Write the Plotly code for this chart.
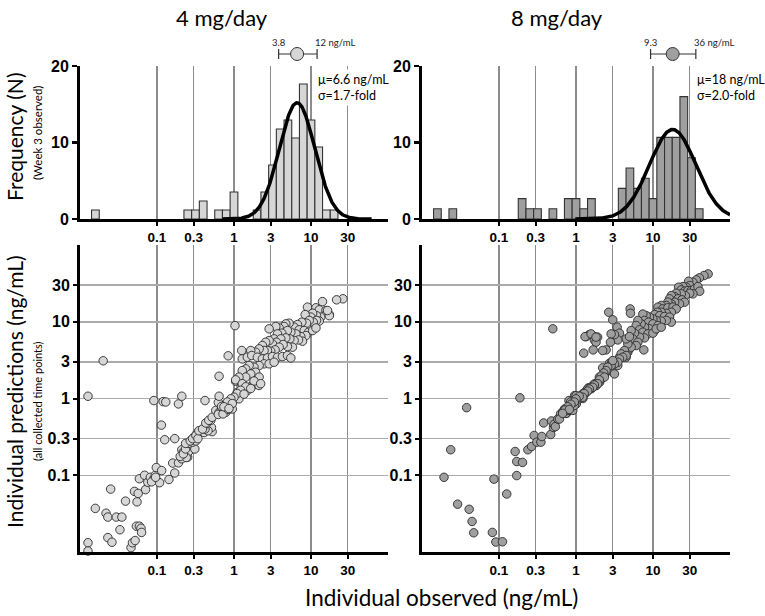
import numpy as np
import plotly.graph_objects as go

W, H = 765, 616

# ---------------- data ----------------
tick_vals = [0.1, 0.3, 1, 3, 10, 30]
tick_text = ["0.1", "0.3", "1", "3", "10", "30"]

# histograms: log10 bin centres (0.1-decade bins) and patient counts
hist4_bin_log = [-1.8, -0.6, -0.5, -0.4, -0.2, -0.1, 0.0, 0.3, 0.4, 0.5, 0.6,
                 0.7, 0.8, 0.9, 1.0, 1.1, 1.2, 1.3]
hist4_counts = [1, 1, 1, 2, 1, 1, 3, 1, 3, 6, 10, 11, 9, 15, 11, 8, 1, 1]
N4 = 85
hist8_bin_log = [-1.8, -1.6, -0.7, -0.6, -0.5, -0.3, -0.1, 0.0, 0.1, 0.2, 0.6,
                 0.7, 0.8, 0.9, 1.0, 1.1, 1.2, 1.3, 1.4, 1.5, 1.6]
hist8_counts = [1, 1, 2, 1, 1, 1, 2, 2, 1, 2, 3, 5, 3, 4, 2, 8, 8, 8, 12, 6, 1]
N8 = 75

# log-normal fits (geometric mean, fold SD, fitted peak %, 1-SD interval)
mu4, gsd4, peak4, lo4, hi4 = 6.6, 1.7, 15.2, 3.8, 12
mu8, gsd8, peak8, lo8, hi8 = 18, 2.0, 11.7, 9.3, 36

# scatter: individual observed vs individual predicted (ng/mL)
obs4 = [0.0127, 0.02, 1.03, 0.84, 0.64, 0.091, 0.12, 0.13, 0.19, 0.21, 0.42, 0.114, 0.126, 0.17, 1.05,
        0.0127, 0.0127, 0.0158, 0.0218, 0.023, 0.025, 0.023, 0.026, 0.0296, 0.035,
        0.033, 0.039, 0.046, 0.048, 0.052, 0.051, 0.057, 0.055, 0.054, 0.059,
        0.062, 0.063, 0.059, 0.071, 0.069, 0.076, 0.082, 0.091, 0.095, 0.098,
        0.108, 0.115, 0.143, 0.17, 0.16, 0.19, 0.21, 0.21, 0.22, 0.25, 0.26, 0.085, 0.096,
        0.24, 0.20, 0.22, 0.235, 0.31, 0.26, 0.29, 0.32, 0.30, 0.33,
        0.38, 0.41, 0.52, 0.51, 0.46, 0.42, 0.44, 0.50, 0.235, 0.27,
        0.29, 0.32, 0.34, 0.35, 0.39, 0.43, 0.47, 0.52, 0.58, 0.64,
        0.69, 0.78, 0.72, 0.86, 0.95, 0.625, 0.72, 0.84, 0.93, 1.0,
        0.625, 0.64, 0.69, 1.05, 1.1, 1.24, 1.35, 1.49, 1.65, 1.82, 2.11, 1.28, 1.16,
        26, 21.5, 14.1, 9.0, 11.6, 12.8, 15.6, 16.1, 17.3, 13.4,
        11.8, 10.5, 9.96, 8.4, 12.8, 11.8, 10.7, 9.5, 8.75, 7.6,
        6.68, 6.05, 5.2, 4.71, 4.48, 3.86, 3.49, 2.86, 7.02, 8.16,
        9.3, 10.5, 11.6, 8.58, 7.38, 6.36, 5.47, 4.95, 4.18, 3.67,
        3.32, 7.76, 6.89, 6.05, 5.31, 4.71, 4.05, 3.56, 3.16, 2.86,
        2.58, 2.34, 5.75, 4.95, 4.35, 3.86, 3.42, 3.0, 2.72, 2.46,
        2.12, 1.91, 1.65, 1.26, 1.28, 1.49, 1.70, 2.01, 2.34, 2.72,
        3.16, 3.67, 4.26, 4.95, 5.47, 2.46, 2.12, 1.82, 1.57, 1.42,
        1.28, 2.86, 3.32, 1.91, 1.65, 1.42, 2.12, 1.82, 2.22, 1.16,
        1.05, 1.28, 1.42, 1.65, 1.22, 1.10, 1.35, 1.0, 0.91, 0.82,
        0.95, 0.74, 0.86, 17.3, 16.4]
pred4 = [1.07, 3.1, 8.9, 3.6, 1.95, 0.94, 0.91, 0.9, 0.85, 1.07, 0.94, 0.45, 0.29, 0.30, 1.68,
         0.0132, 0.0103, 0.037, 0.032, 0.0285, 0.066, 0.0154, 0.0134, 0.0285, 0.0285,
         0.0195, 0.046, 0.0114, 0.0132, 0.0141, 0.0616, 0.058, 0.045, 0.0217, 0.0217,
         0.0204, 0.018, 0.09, 0.065, 0.1, 0.081, 0.094, 0.09, 0.1, 0.126,
         0.08, 0.115, 0.088, 0.107, 0.144, 0.145, 0.164, 0.215, 0.2, 0.172, 0.206, 0.082, 0.094,
         0.17, 0.176, 0.19, 0.22, 0.22, 0.26, 0.27, 0.28, 0.31, 0.35,
         0.39, 0.36, 0.37, 0.42, 0.38, 0.40, 0.47, 0.52, 0.26, 0.28,
         0.30, 0.33, 0.30, 0.38, 0.40, 0.48, 0.52, 0.57, 0.70, 0.66,
         0.76, 0.66, 0.81, 0.9, 0.73, 0.62, 0.63, 0.72, 0.91, 0.96,
         0.89, 1.07, 0.79, 1.07, 1.2, 1.43, 1.34, 1.27, 1.43, 1.52, 1.48, 1.15, 0.99,
         19.9, 19.3, 18.3, 15.5, 15.2, 14.3, 14.0, 12.9, 12.4, 11.5,
         12.0, 12.9, 11.5, 12.4, 10.2, 10.4, 9.87, 10.4, 9.58, 9.87,
         9.2, 8.49, 9.58, 9.38, 8.67, 8.3, 8.67, 8.08, 7.85, 7.68,
         7.31, 7.68, 8.3, 6.61, 6.4, 6.95, 7.31, 7.68, 7.1, 6.95,
         5.98, 5.58, 5.8, 5.69, 5.98, 6.16, 5.98, 5.41, 5.15, 5.69,
         5.41, 4.9, 4.66, 4.75, 5.05, 4.66, 4.3, 4.13, 4.22, 4.22,
         4.43, 4.01, 4.22, 4.22, 3.28, 3.45, 3.63, 3.45, 3.28, 3.38,
         3.52, 3.45, 3.52, 3.63, 3.38, 2.83, 2.69, 2.56, 2.69, 2.43,
         2.31, 2.83, 2.97, 2.2, 2.09, 1.9, 1.9, 1.69, 1.56, 1.9,
         1.75, 1.56, 1.42, 1.35, 1.28, 1.16, 1.14, 1.04, 0.99, 0.9,
         0.86, 0.78, 0.74, 12.0, 14.0]

obs8 = [0.0193, 0.0236, 0.038, 0.029, 0.041, 0.0447, 0.047, 0.082, 0.091, 0.111,
        0.086, 0.126, 0.17, 0.162, 0.17, 0.202, 0.187, 0.5, 0.237, 0.265,
        0.286, 0.31, 0.35, 0.36, 0.38, 0.47, 0.48, 0.51, 0.52, 0.54,
        0.58, 0.63, 0.68, 0.71, 0.75, 0.81, 0.83, 0.89, 0.96, 1.01,
        1.09, 1.17, 1.23, 1.30, 1.36, 1.46, 1.58, 1.70, 1.84, 2.03,
        0.61, 0.67, 0.74, 0.78, 0.84, 0.91, 0.95, 0.85, 1.0, 1.10,
        1.16, 1.22, 1.35, 1.42, 1.57, 1.73, 1.91, 2.12, 2.01, 2.29,
        2.46, 2.22, 2.58, 2.86, 3.0, 2.72, 2.91, 3.16, 3.49, 3.67,
        3.94, 4.26, 4.71, 4.48, 4.95,
        52, 46, 40, 36.5, 33, 29, 30, 27, 24.5, 21.5,
        23.3, 25.7, 28.4, 31.4, 34.7, 38.4, 40.4, 33, 30, 26.3,
        23.3, 20, 19.1, 17.3, 16.4, 21.1, 23.8, 25.7, 22.1, 19.1,
        17.3, 15.6, 14.9, 12.8, 11.6, 13.4, 15.6, 18.2, 20, 17.3,
        14.9, 12.8, 11.4, 10.5, 12.2, 14.1, 16.4, 17.3, 14.9, 12.8,
        11, 9.96, 9.0, 8.16, 7.38, 7.76, 8.75, 9.96, 11.6, 10.5,
        9, 7.76, 7.02, 6.36, 6.05, 6.68, 7.38, 8.58, 9.96, 11,
        12.8, 7.76, 6.68, 5.75, 5.2, 5.47, 6.36, 6.05, 5.2, 4.71,
        4.48, 4.95, 4.26, 3.86, 4.48, 4.05, 3.67, 3.49, 3.16, 2.86,
        3.0, 2.58, 2.46, 2.29, 2.12, 2.34, 2.01, 1.91, 1.73, 1.65,
        1.49, 1.42, 1.28, 1.22, 1.10, 1.0, 0.95, 0.86, 0.78, 0.72,
        0.82, 0.67,
        2.66, 5.05, 5.1, 3.0, 3.42, 3.67, 3.49, 3.16, 2.86, 2.8,
        2.46, 2.22, 1.91, 1.73, 1.49, 1.35, 1.73, 1.82, 1.67, 1.26,
        7.6, 1.31, 1.57, 1.82]
pred8 = [0.094, 0.215, 0.76, 0.042, 0.036, 0.025, 0.0178, 0.018, 0.0135, 0.0136,
         0.089, 0.057, 0.099, 0.204, 0.151, 0.147, 1.02, 8.1, 0.215, 0.237,
         0.33, 0.27, 0.27, 0.32, 0.48, 0.34, 0.51, 0.42, 0.46, 0.43,
         0.54, 0.63, 0.68, 0.73, 0.64, 0.94, 0.70, 0.79, 1.09, 0.85,
         1.0, 1.09, 1.0, 1.15, 1.21, 1.38, 1.34, 1.43, 1.48, 1.63,
         0.54, 0.66, 0.64, 0.70, 0.77, 0.70, 0.81, 0.90, 1.09, 0.99,
         1.04, 1.15, 1.25, 1.34, 1.41, 1.55, 1.63, 1.80, 1.90, 2.09,
         2.2, 2.51, 2.36, 2.56, 2.2, 2.88, 2.97, 2.09, 2.69, 3.45,
         3.63, 3.82, 4.01, 3.45, 4.43,
         42, 40, 37.3, 35.1, 32.7, 33.7, 29.6, 28.2, 28.7, 28.2,
         26, 25, 25.5, 25.5, 26.8, 28.7, 25, 23.1, 23.5, 21.9,
         23.1, 23.5, 21.3, 21.9, 19.9, 19.9, 19.3, 18, 17.1, 18,
         17.1, 18, 16.3, 16.3, 15.5, 14.7, 15.2, 15.5, 14.7, 13.3,
         12.9, 13.3, 13.3, 12.4, 12, 11.7, 11.5, 9.87, 10.4, 10.2,
         10.4, 10.9, 11.5, 12, 12.6, 10.4, 9.87, 9.38, 8.93, 7.68,
         8.08, 8.49, 9.38, 10.4, 8.93, 7.85, 7.31, 6.95, 7.1, 8.08,
         8.49, 6.16, 6.3, 7.1, 7.68, 5.98, 5.41, 4.9, 4.66, 5.15,
         5.98, 6.4, 4.22, 3.82, 3.63, 3.45, 3.28, 2.97, 2.83, 2.69,
         3.12, 2.56, 2.31, 2.15, 1.96, 1.9, 1.75, 1.56, 1.5, 1.4,
         1.33, 1.25, 1.16, 1.04, 1.07, 0.99, 0.9, 0.84, 0.78, 0.71,
         0.72, 0.64,
         13.3, 14.7, 12.9, 10.6, 8.49, 7.1, 5.8, 6.8, 6.95, 5.41,
         4.3, 4.22, 6.3, 6.4, 6.8, 6.4, 5.8, 5.41, 4.3, 3.9,
         4.3, 6.4, 6.95, 6.3]

# ---------------- styling ----------------
col4, col8 = "#d6d6d6", "#9f9f9f"
edge = "#2a2a2a"
gridx, gridy = "#8c8c8c", "#ababab"
XTICKFONT = dict(family="Liberation Sans, Arial", size=13.5, color="black", weight="bold")
YTICKFONT = dict(family="Liberation Sans, Arial", size=16, color="black", weight="bold")
TXT = "Lato, Open Sans, sans-serif"


def px_x(p):
    return p / W


def px_y(p):
    return 1 - p / H


xL = [px_x(80), px_x(388)]
xR = [px_x(422), px_x(730)]
yHd = [px_y(219), px_y(66)]
ySd = [px_y(552), px_y(245)]
yEb = [px_y(62), px_y(46)]

fig = go.Figure()

panels = [
    dict(xa="x", ya="y", xa_e="x5", ya_e="y5", xa_s="x3", ya_s="y3", bins=hist4_bin_log,
         counts=hist4_counts, N=N4, mu=mu4, gsd=gsd4, peak=peak4, lo=lo4, hi=hi4, col=col4,
         obs=obs4, pred=pred4),
    dict(xa="x2", ya="y2", xa_e="x6", ya_e="y6", xa_s="x4", ya_s="y4", bins=hist8_bin_log,
         counts=hist8_counts, N=N8, mu=mu8, gsd=gsd8, peak=peak8, lo=lo8, hi=hi8, col=col8,
         obs=obs8, pred=pred8),
]

for p in panels:
    pct = [c * 100.0 / p["N"] for c in p["counts"]]
    fig.add_trace(go.Bar(x=p["bins"], y=pct, width=0.1, xaxis=p["xa"], yaxis=p["ya"],
                         marker=dict(color=p["col"], line=dict(color="#333333", width=1.1)),
                         showlegend=False))
    m, s = np.log10(p["mu"]), np.log10(p["gsd"])
    xs = np.linspace(max(-2, m - 4.2 * s), min(2, m + 4.2 * s), 300)
    ys = p["peak"] * np.exp(-0.5 * ((xs - m) / s) ** 2)
    fig.add_trace(go.Scatter(x=xs, y=ys, mode="lines", xaxis=p["xa"], yaxis=p["ya"],
                             line=dict(color="black", width=3.5), showlegend=False, cliponaxis=False))
    fig.add_trace(go.Scatter(x=[m], y=[0.5], mode="markers", xaxis=p["xa_e"], yaxis=p["ya_e"],
                             marker=dict(size=13, color=p["col"], line=dict(color="#333333", width=1)),
                             error_x=dict(type="data", symmetric=False,
                                          array=[np.log10(p["hi"]) - m],
                                          arrayminus=[m - np.log10(p["lo"])],
                                          color="#333333", thickness=1.2, width=5),
                             showlegend=False, cliponaxis=False))
    fig.add_trace(go.Scatter(x=p["obs"], y=p["pred"], mode="markers", xaxis=p["xa_s"], yaxis=p["ya_s"],
                             marker=dict(size=8.5, color=p["col"], line=dict(color=edge, width=0.9)),
                             showlegend=False, cliponaxis=False))

log_ticks = [float(np.log10(v)) for v in tick_vals]

hist_x = dict(range=[-2, 2], tickvals=log_ticks, ticktext=tick_text, showgrid=True,
              gridcolor=gridx, gridwidth=1.5, showline=True, linewidth=3, linecolor="black",
              ticks="outside", ticklen=4, tickwidth=2, tickcolor="black", tickfont=XTICKFONT,
              zeroline=False, fixedrange=True, automargin=False)
hist_y = dict(range=[0, 20], tickvals=[0, 10, 20], showgrid=False, showline=True, linewidth=3,
              linecolor="black", ticks="outside", ticklen=5, tickwidth=2.5, tickcolor="black",
              tickfont=YTICKFONT, zeroline=False, automargin=False)
sc_x = dict(type="log", range=[-2, 2], tickvals=tick_vals, ticktext=tick_text, showgrid=True,
            gridcolor=gridx, gridwidth=1.5, showline=True, linewidth=3, linecolor="black",
            ticks="outside", ticklen=4, tickwidth=2, tickcolor="black", tickfont=XTICKFONT,
            zeroline=False, automargin=False)
sc_y = dict(type="log", range=[-2, 2], tickvals=tick_vals, ticktext=tick_text, showgrid=True,
            gridcolor=gridy, gridwidth=1.5, showline=True, linewidth=3, linecolor="black",
            ticks="outside", ticklen=4, tickwidth=2, tickcolor="black", tickfont=YTICKFONT,
            zeroline=False, automargin=False)
eb_x = dict(range=[-2, 2], visible=False, showgrid=False, zeroline=False, fixedrange=True)
eb_y = dict(range=[0, 1], visible=False, showgrid=False, zeroline=False, fixedrange=True)

fig.update_layout(
    width=W, height=H, autosize=False,
    margin=dict(l=0, r=0, t=0, b=0, pad=0, autoexpand=False),
    paper_bgcolor="white", plot_bgcolor="rgba(0,0,0,0)", bargap=0,
    xaxis=dict(hist_x, domain=xL, anchor="y"),
    yaxis=dict(hist_y, domain=yHd, anchor="x"),
    xaxis2=dict(hist_x, domain=xR, anchor="y2"),
    yaxis2=dict(hist_y, domain=yHd, anchor="x2"),
    xaxis3=dict(sc_x, domain=xL, anchor="y3"),
    yaxis3=dict(sc_y, domain=ySd, anchor="x3"),
    xaxis4=dict(sc_x, domain=xR, anchor="y4"),
    yaxis4=dict(sc_y, domain=ySd, anchor="x4"),
    xaxis5=dict(eb_x, domain=xL, anchor="y5"),
    yaxis5=dict(eb_y, domain=yEb, anchor="x5"),
    xaxis6=dict(eb_x, domain=xR, anchor="y6"),
    yaxis6=dict(eb_y, domain=yEb, anchor="x6"),
)

ann = []


def txt(x, y, t, size, **kw):
    d = dict(x=x, y=y, xref="paper", yref="paper", text=t, showarrow=False,
             xanchor="center", yanchor="middle",
             font=dict(family=TXT, size=size, color="black"))
    d.update(kw)
    ann.append(d)


txt(px_x(222), px_y(17), "4 mg/day", 22)
txt(px_x(557), px_y(17), "8 mg/day", 22)
txt(px_x(14), px_y(137), "Frequency (N)", 21, textangle=-90)
txt(px_x(37), px_y(133), "(Week 3 observed)", 11.5, textangle=-90)
txt(px_x(14), px_y(392), "Individual predictions (ng/mL)", 21, textangle=-90)
txt(px_x(37), px_y(401), "(all collected time points)", 11, textangle=-90)
txt(px_x(442), px_y(597), "Individual observed (ng/mL)", 22.5)

for p, xref, xpos in [(panels[0], "x5", 315), (panels[1], "x6", 694)]:
    ann.append(dict(x=float(np.log10(p["lo"])), y=px_y(43), xref=xref, yref="paper",
                    text=f"{p['lo']:g}", showarrow=False, xanchor="center", yanchor="middle",
                    font=dict(family=TXT, size=9.5, color="#222222")))
    ann.append(dict(x=float(np.log10(p["hi"])), y=px_y(43), xref=xref, yref="paper",
                    text=f"{p['hi']:g} ng/mL", showarrow=False, xanchor="left", yanchor="middle",
                    xshift=-4, font=dict(family=TXT, size=9.5, color="#222222")))
    ann.append(dict(x=px_x(xpos), y=px_y(69), xref="paper", yref="paper", xanchor="left", yanchor="top",
                    text=f"\u03bc={p['mu']:g} ng/mL<br>\u03c3={p['gsd']:.1f}-fold", align="left",
                    showarrow=False, bgcolor="white", borderpad=2,
                    font=dict(family=TXT, size=12.5, color="black")))

fig.update_layout(annotations=ann)
fig.write_html("out.html", config={"displayModeBar": False, "staticPlot": True},
               post_script="document.body.style.margin='0px';")
